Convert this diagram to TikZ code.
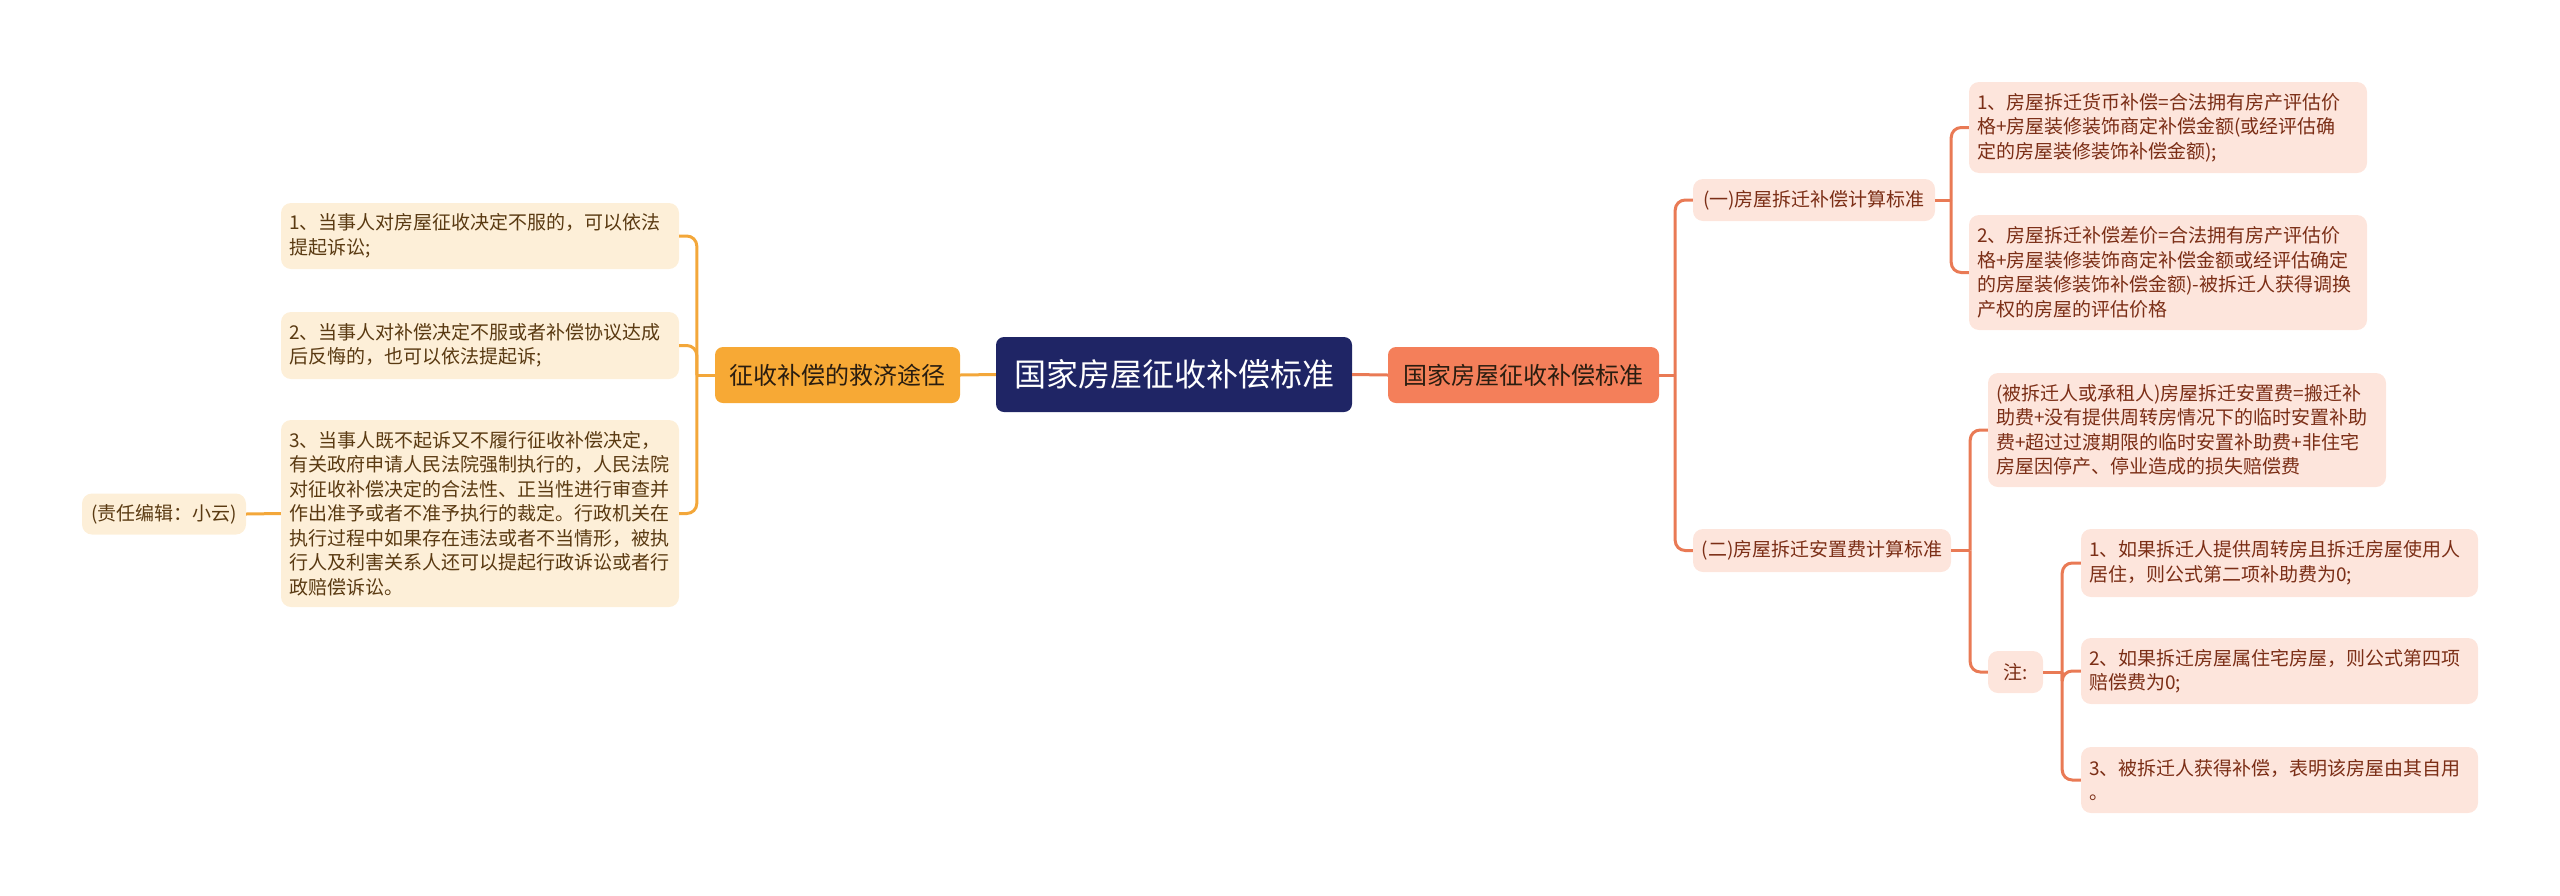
\documentclass[tikz,border=0pt]{standalone}
\usepackage{fontspec}
\setmainfont{Noto Sans CJK SC}
\definecolor{navy}{HTML}{1F2565}
\definecolor{brorange}{HTML}{F7A935}
\definecolor{brcoral}{HTML}{F47F5A}
\definecolor{lfillL}{HTML}{FDEFD8}
\definecolor{ltextL}{HTML}{5A3A12}
\definecolor{lfillR}{HTML}{FDE5DC}
\definecolor{ltextR}{HTML}{7B2E16}
\definecolor{lineL}{HTML}{F3A73A}
\definecolor{lineR}{HTML}{E97A55}
\definecolor{brtext}{HTML}{2A1D10}
\tikzset{
  rootbox/.style={fill=navy, text=white, rounded corners=8pt, font=\fontsize{32}{38}\selectfont, inner sep=0pt, align=center},
  branchL/.style={fill=brorange, text=brtext, rounded corners=8pt, font=\fontsize{24}{29}\selectfont, inner sep=0pt, align=center},
  branchR/.style={fill=brcoral, text=brtext, rounded corners=8pt, font=\fontsize{24}{29}\selectfont, inner sep=0pt, align=center},
  leafL/.style={fill=lfillL, text=ltextL, rounded corners=10pt, font=\fontsize{19}{24.5}\selectfont, inner xsep=8pt, inner ysep=0pt, align=left},
  leafR/.style={fill=lfillR, text=ltextR, rounded corners=10pt, font=\fontsize{19}{24.5}\selectfont, inner xsep=8pt, inner ysep=0pt, align=left},
  connL/.style={draw=lineL, line width=3pt},
  connR/.style={draw=lineR, line width=3pt},
  bendL/.style={connL, rounded corners=10pt},
  bendR/.style={connR, rounded corners=10pt},
}
\begin{document}
\begin{tikzpicture}[x=1pt,y=-1pt]
\useasboundingbox (0,0) rectangle (2560,895);
% root and branches
\node[rootbox, minimum width=356pt, minimum height=75pt] (root) at (1174,374.5) {国家房屋征收补偿标准};
\node[branchL, minimum width=245pt, minimum height=56pt] (lb) at (837.5,375) {征收补偿的救济途径};
\node[branchR, minimum width=271pt, minimum height=56pt] (rb) at (1523.5,375) {国家房屋征收补偿标准};
% left leaves
\node[leafL, text width=382pt, minimum height=66pt] (L1) at (480,236) {1、当事人对房屋征收决定不服的，可以依法\\提起诉讼;};
\node[leafL, text width=382pt, minimum height=67pt] (L2) at (480,345.5) {2、当事人对补偿决定不服或者补偿协议达成\\后反悔的，也可以依法提起诉;};
\node[leafL, text width=382pt, minimum height=187pt] (L3) at (480,513.5) {3、当事人既不起诉又不履行征收补偿决定，\\有关政府申请人民法院强制执行的，人民法院\\对征收补偿决定的合法性、正当性进行审查并\\作出准予或者不准予执行的裁定。行政机关在\\执行过程中如果存在违法或者不当情形，被执\\行人及利害关系人还可以提起行政诉讼或者行\\政赔偿诉讼。};
\node[leafL, align=center, inner xsep=0pt, minimum width=164pt, minimum height=41pt] (ed) at (164,514) {(责任编辑：小云)};
% right side
\node[leafR, align=center, inner xsep=0pt, minimum width=242pt, minimum height=42pt] (A1) at (1814,200) {(一)房屋拆迁补偿计算标准};
\node[leafR, align=center, inner xsep=0pt, minimum width=258pt, minimum height=43pt] (A2) at (1822,550.5) {(二)房屋拆迁安置费计算标准};
\node[leafR, text width=382pt, minimum height=91pt] (B1) at (2168,127.5) {1、房屋拆迁货币补偿=合法拥有房产评估价\\格+房屋装修装饰商定补偿金额(或经评估确\\定的房屋装修装饰补偿金额);};
\node[leafR, text width=382pt, minimum height=115pt] (B2) at (2168,272.5) {2、房屋拆迁补偿差价=合法拥有房产评估价\\格+房屋装修装饰商定补偿金额或经评估确定\\的房屋装修装饰补偿金额)-被拆迁人获得调换\\产权的房屋的评估价格};
\node[leafR, text width=382pt, minimum height=114pt] (C1) at (2187,430) {(被拆迁人或承租人)房屋拆迁安置费=搬迁补\\助费+没有提供周转房情况下的临时安置补助\\费+超过过渡期限的临时安置补助费+非住宅\\房屋因停产、停业造成的损失赔偿费};
\node[leafR, align=center, inner xsep=0pt, minimum width=55pt, minimum height=42pt] (C2) at (2015.5,672) {注:};
\node[leafR, text width=381pt, minimum height=68pt] (D1) at (2279.5,563) {1、如果拆迁人提供周转房且拆迁房屋使用人\\居住，则公式第二项补助费为0;};
\node[leafR, text width=381pt, minimum height=66pt] (D2) at (2279.5,671) {2、如果拆迁房屋属住宅房屋，则公式第四项\\赔偿费为0;};
\node[leafR, text width=381pt, minimum height=66pt] (D3) at (2279.5,780) {3、被拆迁人获得补偿，表明该房屋由其自用\\。};
% connectors
\draw[connL] (lb.east) -- (root.west);
\draw[connR] (root.east) -- (rb.west);
\draw[connL] (lb.west) -- ++(-18,0) coordinate (bL);
\draw[bendL] (bL) |- (L1.east);
\draw[bendL] (bL) |- (L2.east);
\draw[bendL] (bL) |- (L3.east);
\draw[connL] (L3.west) -- (ed.east);
\draw[connR] (rb.east) -- ++(16,0) coordinate (bR);
\draw[bendR] (bR) |- (A1.west);
\draw[bendR] (bR) |- (A2.west);
\draw[connR] (A1.east) -- ++(16,0) coordinate (bA1);
\draw[bendR] (bA1) |- (B1.west);
\draw[bendR] (bA1) |- (B2.west);
\draw[connR] (A2.east) -- ++(19,0) coordinate (bA2);
\draw[bendR] (bA2) |- (C1.west);
\draw[bendR] (bA2) |- (C2.west);
\draw[connR] (C2.east) -- ++(19,0) coordinate (bC2);
\draw[bendR] (bC2) |- (D1.west);
\draw[bendR] (bC2) |- (D2.west);
\draw[bendR] (bC2) |- (D3.west);
\end{tikzpicture}
\end{document}
